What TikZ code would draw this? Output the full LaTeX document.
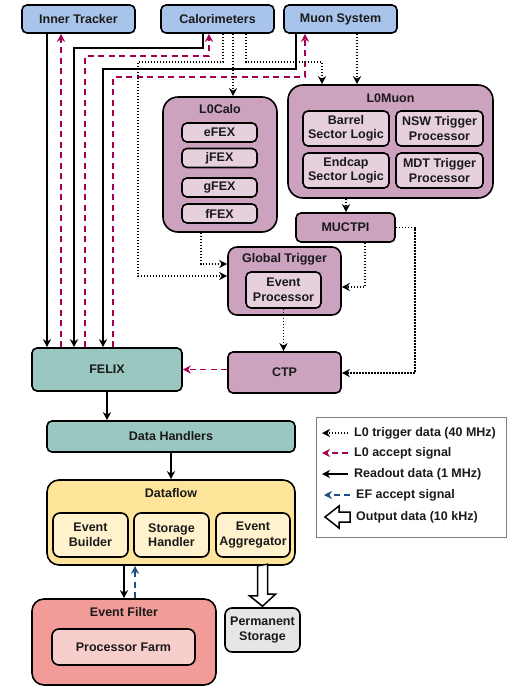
\documentclass[tikz,border=0pt]{standalone}
\usepackage{fontspec}
\setmainfont{Liberation Sans}
\usetikzlibrary{arrows.meta}

\definecolor{detblue}{HTML}{A9C4EB}
\definecolor{trigpurple}{HTML}{CDA2BE}
\definecolor{subpurple}{HTML}{E6D0DE}
\definecolor{felixteal}{HTML}{9AC7BF}
\definecolor{dfyellow}{HTML}{FFE599}
\definecolor{dfsub}{HTML}{FFF2CC}
\definecolor{efred}{HTML}{F19C99}
\definecolor{efsub}{HTML}{F8CECC}
\definecolor{storgray}{HTML}{E6E6E6}
\definecolor{acceptpink}{HTML}{A50052}
\definecolor{efblue}{HTML}{1A4F80}
\definecolor{txt}{HTML}{1A1A1A}

\tikzset{
  blk/.style={draw, line width=1.6pt, rounded corners=5pt, align=center,
    inner sep=0pt, text=txt, font=\fontsize{12.5}{14.5}\selectfont\bfseries},
  bigblk/.style={blk, rounded corners=12pt},
  title/.style={text=txt, inner sep=0pt, font=\fontsize{12.5}{14.5}\selectfont\bfseries},
  tip/.style={-{Stealth[length=8pt,width=8pt,inset=2.5pt]}},
  readout/.style={tip, line width=1.5pt},
  accept/.style={tip, line width=1.5pt, acceptpink, dash pattern=on 6pt off 4.5pt},
  efaccept/.style={tip, line width=1.5pt, efblue, dash pattern=on 6pt off 4.5pt},
  trig/.style={tip, line width=1.5pt, dash pattern=on 1.5pt off 1.5pt},
  legtxt/.style={anchor=west, text=txt, inner sep=0pt, font=\fontsize{12.5}{14.5}\selectfont\bfseries}
}

\begin{document}
\begin{tikzpicture}[x=1pt, y=-1pt]
\useasboundingbox (0,0) rectangle (508,686);

% detectors
\node[blk, fill=detblue, minimum width=113pt, minimum height=28pt] (it) at (78.5,19) {Inner Tracker};
\node[blk, fill=detblue, minimum width=113pt, minimum height=28pt] (calo) at (217.5,19) {Calorimeters};
\node[blk, fill=detblue, minimum width=113pt, minimum height=28pt] (muon) at (340.5,19) {Muon System};

% L0 trigger
\node[bigblk, rounded corners=15pt, fill=trigpurple, minimum width=114pt, minimum height=135pt] (lzcalo) at (220,164.5) {};
\node[title] (lzcalotitle) at (220,109) {L0Calo};
\node[blk, fill=subpurple, minimum width=75pt, minimum height=19pt] (efex) at (219.5,132.5) {eFEX};
\node[blk, fill=subpurple, minimum width=75pt, minimum height=19pt] (jfex) at (219.5,158) {jFEX};
\node[blk, fill=subpurple, minimum width=75pt, minimum height=19pt] (gfex) at (219.5,187.5) {gFEX};
\node[blk, fill=subpurple, minimum width=75pt, minimum height=19pt] (ffex) at (219.5,213.5) {fFEX};

\node[bigblk, rounded corners=15pt, fill=trigpurple, minimum width=205pt, minimum height=113pt] (lzmuon) at (390.5,141.5) {};
\node[title] (lzmuontitle) at (390.5,98) {L0Muon};
\node[blk, fill=subpurple, minimum width=86pt, minimum height=35pt] (barrel) at (346,128.5) {Barrel\\Sector Logic};
\node[blk, fill=subpurple, minimum width=87pt, minimum height=35pt] (nsw) at (439.5,128.5) {NSW Trigger\\Processor};
\node[blk, fill=subpurple, minimum width=86pt, minimum height=35pt] (endcap) at (346,170.5) {Endcap\\Sector Logic};
\node[blk, fill=subpurple, minimum width=87pt, minimum height=35pt] (mdt) at (439.5,170.5) {MDT Trigger\\Processor};

\node[blk, fill=trigpurple, minimum width=99pt, minimum height=29pt] (muctpi) at (345.5,227.5) {MUCTPI};
\node[blk, rounded corners=9pt, fill=trigpurple, minimum width=113pt, minimum height=68pt] (global) at (284.5,281) {};
\node[title] (globaltitle) at (284.5,259) {Global Trigger};
\node[blk, fill=subpurple, minimum width=75pt, minimum height=36pt] (evproc) at (283.5,290) {Event\\Processor};
\node[blk, fill=trigpurple, minimum width=113pt, minimum height=41pt] (ctp) at (284.5,372.5) {CTP};

% readout chain
\node[blk, fill=felixteal, minimum width=150pt, minimum height=43pt] (felix) at (107,369.5) {FELIX};
\node[blk, fill=felixteal, minimum width=248pt, minimum height=31pt] (handlers) at (171,436.5) {Data Handlers};
\node[bigblk, fill=dfyellow, minimum width=248pt, minimum height=85pt] (dataflow) at (171,522.5) {};
\node[title] (dataflowtitle) at (171,493) {Dataflow};
\node[blk, rounded corners=7pt, fill=dfsub, minimum width=75pt, minimum height=44pt] (evbuild) at (90.5,535) {Event\\Builder};
\node[blk, rounded corners=7pt, fill=dfsub, minimum width=75pt, minimum height=44pt] (storhand) at (171.5,535) {Storage\\Handler};
\node[blk, rounded corners=7pt, fill=dfsub, minimum width=74pt, minimum height=44pt] (evagg) at (253,535) {Event\\Aggregator};

\node[bigblk, fill=efred, minimum width=184pt, minimum height=86pt] (evfilter) at (124,642) {};
\node[title] (evfiltertitle) at (124,612) {Event Filter};
\node[blk, rounded corners=7pt, fill=efsub, minimum width=143pt, minimum height=36pt] (procfarm) at (123.5,647) {Processor Farm};
\node[blk, rounded corners=7pt, fill=storgray, minimum width=75pt, minimum height=44pt] (permstor) at (262.5,630) {Permanent\\Storage};

% readout data
\draw[readout] (it.south -| 47,0) -- (felix.north -| 47,0);
\draw[readout] (calo.south -| 203,0) |- (74,48) -- (felix.north -| 74,0);
\draw[readout] (muon.south -| 296,0) |- (103,69) -- (felix.north -| 103,0);

% L0 accept
\draw[accept] (felix.north -| 61,0) -- (it.south -| 61,0);
\draw[accept] (felix.north -| 85,0) |- (209,56) -- (calo.south -| 209,0);
\draw[accept] (felix.north -| 113,0) |- (305,77) -- (muon.south -| 305,0);
\draw[accept] (ctp.west |- 0,369.5) -- (felix.east);

% L0 trigger data
\draw[trig] (calo.south -| 223,0) |- (138,62) |- (global.west |- 0,276);
\draw[trig] (calo.south -| 233,0) -- (lzcalo.north -| 233,0);
\draw[trig] (calo.south -| 246,0) |- (322,62) -- (lzmuon.north -| 322,0);
\draw[trig] (muon.south -| 357,0) -- (lzmuon.north -| 357,0);
\draw[trig] (lzmuon.south -| 346,0) -- (muctpi.north -| 346,0);
\draw[trig] (lzcalo.south -| 201,0) |- (global.west |- 0,264);
\draw[trig] (muctpi.south -| 365,0) |- (global.east |- 0,287);
\draw[trig] (muctpi.east) -| (415,373) -- (ctp.east |- 0,373);
\draw[trig] (evproc.south) -- (ctp.north -| evproc.south);

% dataflow
\draw[readout] (felix.south) -- (handlers.north -| felix.south);
\draw[readout] (handlers.south) -- (dataflow.north);
\draw[readout] (dataflow.south -| 124,0) -- (evfilter.north -| 124,0);
\draw[efaccept] (evfilter.north -| 135,0) -- (dataflow.south -| 135,0);
\draw[line width=1.5pt, fill=white] ([xshift=-5pt]permstor.north |- dataflow.south) -- ++(0,30) -- ++(-8,0)
  -- ([yshift=1pt]permstor.north) -- ++(13,-12) -- ++(-8,0) -- ++(0,-30) -- cycle;

% legend
\draw[line width=0.8pt, draw=gray] (316,417) rectangle (506,537);
\node[legtxt] (leg1) at (354,433) {L0 trigger data (40 MHz)};
\node[legtxt] (leg2) at (354,453) {L0 accept signal};
\node[legtxt] (leg3) at (354,474) {Readout data (1 MHz)};
\node[legtxt] (leg4) at (356,495) {EF accept signal};
\node[legtxt] (leg5) at (356,517) {Output data (10 kHz)};
\draw[trig] ([xshift=-6pt]leg1.west) -- ++(-26,0);
\draw[accept] ([xshift=-6pt]leg2.west) -- ++(-26,0);
\draw[readout] ([xshift=-6pt]leg3.west) -- ++(-26,0);
\draw[efaccept] ([xshift=-6pt]leg4.west) -- ++(-26,0);
\draw[line width=1.5pt, fill=white] ([xshift=-6pt]leg5.west) -- ++(0,5) -- ++(-11,0) -- ++(0,6)
  -- ++(-14,-11) -- ++(14,-11) -- ++(0,6) -- ++(11,0) -- cycle;
\end{tikzpicture}
\end{document}
